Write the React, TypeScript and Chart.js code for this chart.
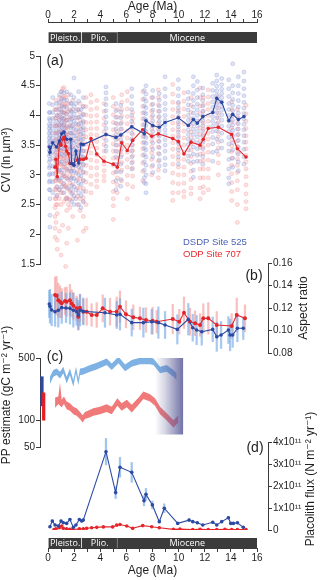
import React, { useEffect, useRef } from 'react';
import { Chart, registerables } from 'chart.js';

Chart.register(...registerables);

// ---------------- data ----------------
const AGE_LABEL_TICKS = [0, 2, 4, 6, 8, 10, 12, 14, 16];
const AGE_ALL_TICKS = [0, 1, 2, 3, 4, 5, 6, 7, 8, 9, 10, 11, 12, 13, 14, 15, 16];
const EPOCH_NAMES = ['Pleisto.', 'Plio.', 'Miocene'];
const EPOCH_START = [0, 2.58, 5.33];
const EPOCH_END = [2.58, 5.33, 16];

// (a) CVI
const SITE_525_AGES = [0.1, 0.15, 0.36, 0.66, 0.87, 1.05, 1.22, 1.43, 1.74, 1.81, 1.99, 2.14, 2.35, 2.53, 2.7, 4.44, 5.2, 5.57, 6.41, 7.37, 7.5, 8.02, 8.52, 8.96, 9.98, 10.74, 11.13, 11.43, 11.85, 12.61, 12.92, 13.3, 13.84, 14.14, 14.57, 15.0];
const SITE_525_CVI_MEAN = [3.47, 3.38, 3.54, 3.47, 3.57, 3.69, 3.72, 3.6, 3.6, 3.19, 3.16, 3.4, 3.2, 3.52, 3.51, 3.68, 3.63, 3.67, 3.81, 3.69, 3.91, 3.83, 3.8, 3.88, 3.96, 3.83, 3.93, 3.87, 3.98, 4.05, 4.29, 4.22, 3.91, 4.02, 3.93, 3.98];
const SITE_525_CVI_RAW = [
  [4.2, 4.05, 3.95, 3.85, 3.78, 3.7, 3.62, 3.55, 3.48, 3.4, 3.32, 3.22, 3.12, 3.0, 2.88, 2.75],
  [4.05, 3.92, 3.82, 3.74, 3.66, 3.58, 3.5, 3.42, 3.35, 3.26, 3.15, 3.02, 2.9, 2.75, 2.6, 2.32, 2.12],
  [4.3, 4.18, 4.05, 3.95, 3.86, 3.78, 3.7, 3.62, 3.55, 3.47, 3.38, 3.28, 3.15, 3.02, 2.88, 2.7],
  [4.2, 4.1, 4.0, 3.9, 3.82, 3.74, 3.66, 3.58, 3.5, 3.42, 3.33, 3.22, 3.1, 2.95, 2.8, 2.65],
  [4.35, 4.22, 4.1, 4.0, 3.92, 3.84, 3.76, 3.68, 3.6, 3.52, 3.44, 3.34, 3.22, 3.08, 2.92, 2.75],
  [4.4, 4.28, 4.16, 4.06, 3.96, 3.88, 3.8, 3.72, 3.64, 3.56, 3.46, 3.35, 3.22, 3.08, 2.95, 2.8],
  [4.38, 4.25, 4.14, 4.04, 3.95, 3.87, 3.79, 3.71, 3.63, 3.54, 3.44, 3.32, 3.18, 3.02, 2.86, 2.7],
  [4.4, 4.26, 4.13, 4.02, 3.92, 3.82, 3.73, 3.64, 3.55, 3.46, 3.36, 3.24, 3.1, 2.94, 2.78, 2.6],
  [4.35, 4.2, 4.08, 3.98, 3.88, 3.79, 3.7, 3.61, 3.52, 3.43, 3.32, 3.2, 3.06, 2.92, 2.75],
  [4.2, 4.06, 3.94, 3.82, 3.7, 3.58, 3.46, 3.36, 3.26, 3.16, 3.06, 2.95, 2.82, 2.68, 2.55],
  [4.63, 4.3, 4.15, 4.02, 3.9, 3.78, 3.66, 3.54, 3.42, 3.3, 3.18, 3.06, 2.94, 2.8, 2.65, 2.5],
  [4.2, 4.08, 3.96, 3.86, 3.76, 3.66, 3.56, 3.46, 3.36, 3.26, 3.15, 3.03, 2.9, 2.75, 2.6],
  [4.4, 4.24, 4.1, 3.97, 3.85, 3.73, 3.61, 3.49, 3.37, 3.25, 3.13, 3.0, 2.86, 2.7, 2.5],
  [4.1, 3.98, 3.87, 3.77, 3.68, 3.59, 3.5, 3.41, 3.32, 3.22, 3.11, 2.98, 2.84, 2.65, 2.45],
  [4.3, 4.15, 4.02, 3.9, 3.8, 3.7, 3.6, 3.5, 3.4, 3.3, 3.18, 3.05, 2.9, 2.72, 2.55],
  [4.48, 4.38, 4.28, 4.18, 4.08, 3.98, 3.88, 3.78, 3.68, 3.58, 3.48, 3.4],
  [4.2, 4.08, 3.97, 3.87, 3.77, 3.68, 3.59, 3.5, 3.4, 3.3, 3.18, 3.05, 2.9, 2.75],
  [4.17, 4.06, 3.96, 3.86, 3.77, 3.68, 3.59, 3.5, 3.4, 3.3, 3.18, 3.05, 2.92, 2.81],
  [4.45, 4.32, 4.2, 4.1, 4.0, 3.9, 3.8, 3.7, 3.6, 3.5, 3.4, 3.3, 3.2, 3.1],
  [4.42, 4.28, 4.16, 4.05, 3.95, 3.85, 3.75, 3.65, 3.55, 3.45, 3.34, 3.22, 3.08, 2.95, 2.87],
  [4.5, 4.36, 4.24, 4.13, 4.03, 3.93, 3.83, 3.73, 3.63, 3.53, 3.42, 3.3, 3.16, 3.0, 2.85, 2.7],
  [4.42, 4.3, 4.19, 4.09, 4.0, 3.91, 3.82, 3.73, 3.64, 3.54, 3.43, 3.3, 3.16, 3.04],
  [4.37, 4.26, 4.16, 4.07, 3.98, 3.9, 3.82, 3.74, 3.65, 3.56, 3.46, 3.35, 3.25, 3.15],
  [4.65, 4.45, 4.32, 4.2, 4.1, 4.0, 3.92, 3.84, 3.76, 3.68, 3.59, 3.5, 3.4, 3.28, 3.17, 3.07],
  [4.6, 4.45, 4.33, 4.22, 4.13, 4.05, 3.97, 3.89, 3.81, 3.72, 3.63, 3.53, 3.42, 3.3, 3.18],
  [4.39, 4.28, 4.18, 4.09, 4.0, 3.92, 3.84, 3.76, 3.68, 3.6, 3.51, 3.42, 3.32, 3.23],
  [4.65, 4.5, 4.37, 4.25, 4.14, 4.04, 3.95, 3.86, 3.77, 3.68, 3.58, 3.47, 3.35, 3.22, 3.08, 2.96],
  [4.57, 4.43, 4.3, 4.19, 4.09, 4.0, 3.91, 3.82, 3.73, 3.64, 3.54, 3.44, 3.33, 3.23],
  [4.46, 4.35, 4.25, 4.16, 4.07, 3.99, 3.91, 3.83, 3.74, 3.65, 3.55, 3.44, 3.31, 3.18],
  [4.54, 4.42, 4.32, 4.23, 4.14, 4.06, 3.98, 3.9, 3.82, 3.73, 3.63, 3.52, 3.38, 3.23],
  [4.68, 4.58, 4.49, 4.41, 4.34, 4.27, 4.2, 4.13, 4.05, 3.96, 3.86, 3.74, 3.6, 3.4],
  [4.62, 4.52, 4.44, 4.37, 4.3, 4.23, 4.16, 4.09, 4.01, 3.92, 3.82, 3.7, 3.57, 3.45],
  [4.6, 4.45, 4.32, 4.2, 4.1, 4.0, 3.91, 3.82, 3.73, 3.63, 3.52, 3.4, 3.26, 3.1, 2.95, 2.85],
  [4.87, 4.5, 4.38, 4.27, 4.17, 4.08, 4.0, 3.92, 3.84, 3.75, 3.65, 3.54, 3.42, 3.28, 3.13],
  [4.65, 4.5, 4.37, 4.25, 4.14, 4.04, 3.95, 3.86, 3.77, 3.68, 3.58, 3.47, 3.35, 3.22, 3.07],
  [4.73, 4.58, 4.45, 4.33, 4.22, 4.12, 4.03, 3.94, 3.85, 3.76, 3.66, 3.55, 3.43, 3.3, 3.18],
];

const SITE_707_AGES = [0.54, 0.61, 0.71, 0.87, 1.0, 1.12, 1.22, 1.35, 1.43, 1.56, 1.68, 1.89, 2.25, 2.45, 2.71, 2.91, 3.29, 3.73, 4.29, 5.0, 5.31, 5.64, 6.07, 6.48, 7.25, 7.94, 8.45, 9.55, 9.98, 10.41, 10.95, 11.64, 11.89, 12.27, 13.04, 14.06, 14.5, 15.16];
const SITE_707_CVI_MEAN = [3.13, 3.26, 2.97, 3.54, 3.5, 3.6, 3.63, 3.48, 3.4, 3.36, 3.19, 3.18, 3.25, 3.26, 3.26, 3.28, 3.61, 3.35, 3.23, 3.18, 3.13, 3.54, 3.41, 3.58, 3.76, 3.65, 3.69, 3.61, 3.56, 3.35, 3.55, 3.5, 3.6, 3.78, 3.8, 3.68, 3.44, 3.3];
const SITE_707_CVI_RAW = [
  [4.1, 3.95, 3.82, 3.7, 3.58, 3.46, 3.35, 3.24, 3.13, 3.02, 2.9, 2.76, 2.6, 2.45, 2.3, 2.1, 1.95],
  [4.25, 4.1, 3.96, 3.83, 3.71, 3.6, 3.49, 3.38, 3.27, 3.16, 3.04, 2.9, 2.75, 2.6, 2.5, 2.2],
  [4.0, 3.84, 3.7, 3.56, 3.43, 3.3, 3.17, 3.05, 2.93, 2.8, 2.66, 2.5, 2.35, 1.9, 1.75],
  [4.3, 4.16, 4.04, 3.93, 3.82, 3.72, 3.62, 3.52, 3.42, 3.31, 3.19, 3.05, 2.9, 2.75, 2.6, 2.05],
  [4.4, 4.24, 4.1, 3.97, 3.85, 3.74, 3.63, 3.52, 3.41, 3.3, 3.18, 3.04, 2.88, 2.7, 2.5, 1.65],
  [4.45, 4.3, 4.17, 4.05, 3.94, 3.83, 3.72, 3.61, 3.5, 3.39, 3.27, 3.14, 2.99, 2.85, 2.7, 2.15],
  [4.47, 4.32, 4.18, 4.06, 3.95, 3.84, 3.73, 3.62, 3.51, 3.4, 3.28, 3.14, 2.98, 2.8, 2.55],
  [4.3, 4.15, 4.02, 3.9, 3.79, 3.68, 3.57, 3.46, 3.35, 3.24, 3.12, 2.98, 2.82, 2.6, 1.46],
  [4.2, 4.05, 3.92, 3.8, 3.68, 3.56, 3.44, 3.32, 3.2, 3.08, 2.95, 2.8, 2.62, 2.4, 1.85],
  [4.35, 4.2, 4.06, 3.93, 3.8, 3.67, 3.55, 3.43, 3.31, 3.19, 3.06, 2.92, 2.76, 2.6, 2.5, 2.1],
  [4.1, 3.96, 3.83, 3.71, 3.59, 3.47, 3.35, 3.23, 3.11, 2.99, 2.86, 2.72, 2.58, 2.45],
  [4.25, 4.1, 3.96, 3.83, 3.71, 3.59, 3.47, 3.35, 3.23, 3.11, 2.98, 2.84, 2.7, 2.6, 2.3],
  [4.1, 3.96, 3.84, 3.72, 3.61, 3.5, 3.39, 3.28, 3.17, 3.05, 2.92, 2.78, 2.64, 2.5, 1.9],
  [4.2, 4.05, 3.92, 3.8, 3.68, 3.56, 3.44, 3.32, 3.2, 3.08, 2.94, 2.78, 2.6, 2.4],
  [4.15, 4.01, 3.88, 3.76, 3.64, 3.52, 3.4, 3.28, 3.16, 3.04, 2.91, 2.77, 2.62, 2.55, 2.3, 2.05],
  [4.3, 4.15, 4.01, 3.88, 3.76, 3.64, 3.52, 3.4, 3.28, 3.16, 3.03, 2.88, 2.72, 2.5, 2.1],
  [4.35, 4.22, 4.1, 3.99, 3.88, 3.78, 3.68, 3.58, 3.48, 3.37, 3.25, 3.12, 2.98, 2.84, 2.7],
  [4.25, 4.12, 4.0, 3.89, 3.78, 3.67, 3.56, 3.45, 3.34, 3.23, 3.12, 3.0, 2.9, 2.8],
  [4.2, 4.07, 3.95, 3.84, 3.73, 3.62, 3.51, 3.4, 3.29, 3.18, 3.07, 2.98, 2.9],
  [4.3, 4.15, 4.01, 3.88, 3.76, 3.64, 3.52, 3.4, 3.28, 3.16, 3.03, 2.88, 2.72, 2.6, 2.48, 2.25],
  [4.1, 3.97, 3.85, 3.73, 3.61, 3.5, 3.39, 3.28, 3.17, 3.06, 2.95, 2.83, 2.7],
  [4.35, 4.22, 4.1, 3.99, 3.88, 3.77, 3.66, 3.55, 3.44, 3.33, 3.21, 3.08, 2.9],
  [4.4, 4.25, 4.11, 3.98, 3.86, 3.74, 3.62, 3.5, 3.38, 3.26, 3.13, 2.99, 2.84, 2.6],
  [4.05, 3.95, 3.86, 3.77, 3.68, 3.59, 3.5, 3.41, 3.32, 3.22, 3.11, 2.98, 2.8],
  [4.4, 4.27, 4.15, 4.04, 3.94, 3.84, 3.74, 3.64, 3.54, 3.44, 3.33, 3.2, 3.06, 2.9],
  [4.3, 4.18, 4.07, 3.97, 3.87, 3.77, 3.67, 3.57, 3.47, 3.37, 3.26, 3.14, 3.0],
  [4.43, 4.3, 4.18, 4.07, 3.97, 3.87, 3.77, 3.67, 3.57, 3.47, 3.36, 3.23, 3.08, 2.95],
  [4.52, 4.36, 4.22, 4.1, 3.98, 3.87, 3.76, 3.65, 3.54, 3.43, 3.31, 3.18, 3.03, 2.87, 2.7, 2.57],
  [4.2, 4.08, 3.97, 3.86, 3.76, 3.66, 3.56, 3.46, 3.36, 3.25, 3.13, 3.0, 2.85, 2.7],
  [4.38, 4.24, 4.11, 3.98, 3.86, 3.74, 3.62, 3.5, 3.38, 3.26, 3.13, 3.0, 2.86, 2.72, 2.63],
  [4.3, 4.17, 4.05, 3.94, 3.83, 3.72, 3.62, 3.52, 3.42, 3.31, 3.19, 3.06, 2.92, 2.78, 2.68],
  [4.46, 4.3, 4.16, 4.03, 3.91, 3.79, 3.68, 3.57, 3.46, 3.35, 3.23, 3.1, 2.95, 2.78, 2.6],
  [4.3, 4.18, 4.07, 3.97, 3.87, 3.77, 3.67, 3.57, 3.47, 3.36, 3.24, 3.1, 2.95, 2.8, 2.7],
  [4.43, 4.31, 4.2, 4.1, 4.0, 3.9, 3.8, 3.7, 3.6, 3.5, 3.38, 3.25, 3.1, 2.95, 2.75],
  [4.32, 4.22, 4.13, 4.04, 3.96, 3.88, 3.8, 3.72, 3.64, 3.55, 3.45, 3.34, 3.2, 3.0],
  [4.23, 4.1, 3.99, 3.89, 3.79, 3.69, 3.59, 3.49, 3.39, 3.28, 3.16, 3.02, 2.87, 2.72, 2.57],
  [4.1, 3.98, 3.87, 3.77, 3.67, 3.57, 3.47, 3.37, 3.27, 3.16, 3.04, 2.9, 2.75, 2.5, 2.2],
  [4.17, 4.03, 3.9, 3.78, 3.66, 3.55, 3.44, 3.33, 3.22, 3.1, 2.97, 2.83, 2.68, 2.55, 2.43],
];

// (b) aspect ratio
const AR_525_AGES = [0.1, 0.15, 0.28, 0.54, 0.79, 1.05, 1.38, 1.68, 1.94, 2.19, 2.32, 2.45, 2.7, 4.36, 5.26, 5.51, 6.41, 7.3, 7.94, 8.45, 8.96, 9.9, 10.74, 11.08, 11.38, 11.77, 12.61, 12.92, 13.25, 13.81, 13.94, 14.14, 14.5, 14.95];
const AR_525 = [0.1236, 0.1215, 0.1182, 0.1167, 0.118, 0.1203, 0.12, 0.1197, 0.118, 0.1167, 0.1138, 0.118, 0.117, 0.1158, 0.1138, 0.1144, 0.107, 0.107, 0.1078, 0.107, 0.1049, 0.101, 0.11, 0.1025, 0.1004, 0.0989, 0.101, 0.0945, 0.096, 0.1004, 0.096, 0.096, 0.102, 0.102];
const AR_525_ERR = [0.012, 0.015, 0.014, 0.013, 0.015, 0.014, 0.013, 0.014, 0.015, 0.012, 0.013, 0.014, 0.012, 0.013, 0.012, 0.014, 0.012, 0.013, 0.011, 0.014, 0.012, 0.013, 0.014, 0.012, 0.013, 0.012, 0.011, 0.013, 0.012, 0.012, 0.014, 0.011, 0.012, 0.01];
const AR_707_AGES = [0.54, 0.66, 0.79, 0.92, 1.05, 1.3, 1.43, 1.68, 1.81, 1.94, 2.19, 2.32, 2.45, 2.7, 2.96, 3.34, 3.73, 4.19, 4.75, 5.26, 5.51, 5.97, 6.53, 7.04, 7.5, 8.01, 8.32, 9.55, 10.05, 10.41, 10.87, 11.26, 11.64, 11.89, 12.27, 12.92, 14.06, 14.45, 15.08];
const AR_707 = [0.1316, 0.131, 0.127, 0.1256, 0.1242, 0.1262, 0.1256, 0.127, 0.124, 0.122, 0.1197, 0.1123, 0.1203, 0.1167, 0.1167, 0.1138, 0.1138, 0.1197, 0.1167, 0.1167, 0.1212, 0.1144, 0.1117, 0.1108, 0.1093, 0.1087, 0.1078, 0.1102, 0.1078, 0.1158, 0.1078, 0.1064, 0.1049, 0.1108, 0.1108, 0.1049, 0.104, 0.1138, 0.1108];
const AR_707_ERR = [0.016, 0.017, 0.015, 0.014, 0.013, 0.012, 0.013, 0.014, 0.012, 0.012, 0.011, 0.012, 0.012, 0.011, 0.012, 0.01, 0.011, 0.012, 0.012, 0.013, 0.014, 0.012, 0.011, 0.01, 0.011, 0.012, 0.01, 0.013, 0.011, 0.014, 0.012, 0.011, 0.01, 0.013, 0.014, 0.012, 0.011, 0.015, 0.012];
const AR_TICK_STEP = 0.02;

// (c) primary productivity (gC m-2 yr-1)
const PP_525_AGES = [0.15, 0.41, 0.66, 0.92, 1.17, 1.43, 1.68, 1.94, 2.14, 2.32, 2.45, 2.7, 3.22, 3.73, 4.49, 4.88, 5.39, 5.9, 6.41, 7.04, 7.81, 8.07, 8.58, 9.09, 9.6, 9.85];
const PP_525_LOW = [255, 308, 322, 295, 336, 259, 321, 238, 336, 248, 321, 326, 350, 372, 416, 366, 436, 356, 399, 424, 424, 416, 336, 350, 308, 283];
const PP_525_HIGH = [310, 366, 382, 350, 399, 308, 382, 282, 399, 294, 382, 387, 416, 443, 495, 435, 518, 423, 474, 504, 504, 495, 399, 416, 366, 336];
const PP_707_AGES = [0.54, 0.79, 0.92, 1.05, 1.22, 1.43, 1.68, 1.94, 2.19, 2.45, 2.65, 2.83, 3.22, 3.47, 3.98, 4.49, 4.88, 5.31, 5.64, 6.03, 6.41, 6.92, 7.3, 7.81, 8.19, 8.58, 9.09, 9.6, 9.98];
const PP_707_LOW = [138, 152, 145, 140, 152, 133, 128, 117, 112, 103, 94, 103, 108, 112, 117, 124, 117, 145, 128, 140, 122, 148, 173, 162, 145, 117, 99, 83, 94];
const PP_707_HIGH = [180, 185, 262, 170, 185, 162, 155, 142, 136, 124, 114, 124, 131, 136, 142, 151, 142, 176, 155, 170, 149, 179, 210, 196, 176, 142, 120, 100, 114];
const PP_MODERN_525 = [145, 308];
const PP_MODERN_707 = [100, 203];
const PP_OVERLAY_AGES = [8.19, 10.36];
const PP_OVERLAY_RANGE = [69, 500];
const PP_TICKS = [50, 100, 500];

// (d) placolith flux (units of 10^11 N m-2 yr-1)
const FLUX_525_AGES = [0.15, 0.33, 0.54, 0.79, 1.0, 1.17, 1.43, 1.68, 1.94, 2.14, 2.4, 2.58, 2.7, 4.44, 5.18, 5.51, 6.41, 7.35, 7.5, 7.99, 8.52, 8.9, 9.93, 10.8, 11.08, 11.43, 11.85, 12.61, 12.92, 13.3, 13.81, 13.99, 14.19, 14.5, 14.95];
const FLUX_525 = [0.15, 0.41, 0.23, 0.18, 0.41, 0.33, 0.3, 0.48, 0.12, 0.23, 0.48, 0.41, 0.45, 3.56, 1.7, 2.85, 2.62, 1.33, 1.62, 1.14, 0.38, 0.99, 0.3, 0.45, 0.38, 0.33, 0.23, 0.35, 0.23, 0.38, 0.56, 0.3, 0.3, 0.33, 0.12];
const FLUX_525_ERR = [0.04, 0.05, 0.04, 0.04, 0.05, 0.04, 0.04, 0.05, 0.03, 0.04, 0.05, 0.05, 0.05, 0.6, 0.27, 0.45, 0.45, 0.23, 0.27, 0.18, 0.06, 0.2, 0.05, 0.06, 0.05, 0.05, 0.04, 0.05, 0.04, 0.05, 0.06, 0.04, 0.04, 0.05, 0.03];
const FLUX_707_AGES = [0.46, 0.61, 0.87, 1.05, 1.17, 1.43, 1.68, 1.89, 2.4, 2.7, 2.96, 3.34, 3.73, 4.24, 4.95, 5.26, 5.51, 6.03, 6.48, 7.25, 7.94, 8.52, 9.6, 10.1, 11.08, 11.64, 12.27, 12.92, 13.55, 14.06, 14.5, 15.16];
const FLUX_707 = [0.02, 0.05, 0.1, 0.18, 0.08, 0.05, 0.03, 0.02, 0.05, 0.06, 0.08, 0.1, 0.12, 0.14, 0.14, 0.22, 0.25, 0.18, 0.08, 0.2, 0.15, 0.1, 0.03, 0.04, 0.02, 0.03, 0.02, 0.02, 0.03, 0.02, 0.02, 0.02];

// ---------------- layout & style ----------------
const W = 320;
const H = 580;
const AREA_L = 40;
const AREA_R = 268;
const AGE0_PX = 48;
const AGE16_PX = 257;
const PX_PER_MA = (AGE16_PX - AGE0_PX) / 16;
const X_MIN = -(AGE0_PX - AREA_L) / PX_PER_MA;
const X_MAX = 16 + (AREA_R - AGE16_PX) / PX_PER_MA;
const MODERN_BAR_X = [-0.46, -0.33];

const FONT = "'Liberation Sans', Arial, 'DejaVu Sans', sans-serif";
const AXIS_COLOR = '#3a3a3a';
const TEXT_COLOR = '#1e1e1e';
const BLUE = '#2c4aa3';
const RED = '#e4262c';
const EPOCH_FILL = '#3b3b3b';

Chart.defaults.font.family = FONT;

type TextItem = { text: string; x: number; y: number; size: number; color?: string; rotate?: boolean; align?: CanvasTextAlign };

function textPlugin(id: string, items: TextItem[]) {
  return {
    id,
    afterDraw(chart: any) {
      const c = chart.ctx as CanvasRenderingContext2D;
      for (const it of items) {
        c.save();
        c.font = `${it.size}px ${FONT}`;
        c.fillStyle = it.color ?? TEXT_COLOR;
        c.textAlign = it.align ?? 'center';
        c.textBaseline = 'middle';
        c.translate(it.x, it.y);
        if (it.rotate) c.rotate(-Math.PI / 2);
        c.fillText(it.text, 0, 0);
        c.restore();
      }
    },
  };
}

const epochLabelPlugin = {
  id: 'epochLabels',
  afterDatasetsDraw(chart: any) {
    const meta = chart.getDatasetMeta(0);
    const c = chart.ctx as CanvasRenderingContext2D;
    c.save();
    c.font = `9px 'Open Sans', ${FONT}`;
    c.fillStyle = '#ffffff';
    c.textAlign = 'center';
    c.textBaseline = 'middle';
    meta.data.forEach((el: any, i: number) => {
      const p = el.getProps(['x', 'base', 'y'], true);
      c.fillText(EPOCH_NAMES[i], (p.x + p.base) / 2, p.y + 0.5);
    });
    c.restore();
  },
};

function baseOptions(padding: any) {
  return {
    responsive: false,
    animation: false,
    events: [],
    layout: { padding },
    plugins: { legend: { display: false }, tooltip: { enabled: false } },
  };
}

function panelPadding(top: number, bottom: number, left: boolean, right: boolean) {
  return { left: left ? 0 : AREA_L, right: right ? 0 : W - AREA_R, top, bottom: H - bottom };
}

function hiddenX() {
  return { type: 'linear', min: X_MIN, max: X_MAX, display: false, offset: false, grid: { offset: false } };
}

function yAxis(side: 'left' | 'right', opts: any, ticks: any) {
  return {
    position: side,
    border: { display: true, color: AXIS_COLOR, width: 1 },
    grid: { display: true, drawOnChartArea: false, drawTicks: true, tickLength: 4, color: AXIS_COLOR },
    afterFit: (s: any) => {
      s.width = side === 'left' ? AREA_L : W - AREA_R;
    },
    ...opts,
    ticks: { font: { family: FONT, size: 10 }, color: TEXT_COLOR, padding: 1, ...ticks },
  };
}

function pts(ages: number[], vals: number[]) {
  return ages.map((a, i) => ({ x: a, y: vals[i] }));
}

function meanLine(label: string, ages: number[], vals: number[], color: string, r = 1.8) {
  return {
    type: 'line',
    label,
    data: pts(ages, vals),
    borderColor: color,
    backgroundColor: color,
    borderWidth: 1.1,
    pointRadius: r,
    pointBorderWidth: 0,
    pointBackgroundColor: color,
    tension: 0,
    fill: false,
  };
}

function errBars(label: string, ages: number[], vals: number[], err: number[], color: string, clip: any = undefined) {
  return {
    type: 'bar',
    label,
    data: ages.map((a, i) => ({ x: a, y: [vals[i] - err[i], vals[i] + err[i]] })),
    backgroundColor: color,
    borderWidth: 0,
    barThickness: 1.6,
    grouped: false,
    ...(clip === undefined ? {} : { clip }),
  };
}

function bandPair(label: string, ages: number[], low: number[], high: number[], color: string) {
  return [
    { type: 'line', label: label + ' high', data: pts(ages, high), borderColor: 'rgba(0,0,0,0)', borderWidth: 0, pointRadius: 0, fill: '+1', backgroundColor: color, tension: 0 },
    { type: 'line', label: label + ' low', data: pts(ages, low), borderColor: 'rgba(0,0,0,0)', borderWidth: 0, pointRadius: 0, fill: false, tension: 0 },
  ];
}

// ---------------- chart configs ----------------
function epochAxisConfig(position: 'top' | 'bottom') {
  const isTop = position === 'top';
  return {
    type: 'bar',
    data: {
      labels: isTop ? ['', 'epoch'] : ['epoch'],
      datasets: [
        {
          label: 'Epochs',
          data: EPOCH_NAMES.map((_, i) => ({ x: [EPOCH_START[i], EPOCH_END[i]], y: 'epoch' })),
          backgroundColor: EPOCH_FILL,
          borderColor: '#ffffff',
          borderWidth: (ctx: any) => (ctx.dataIndex < EPOCH_NAMES.length - 1 ? { top: 0, bottom: 0, left: 0, right: 1 } : 0),
          borderSkipped: false,
          barThickness: isTop ? 11 : 10,
        },
      ],
    },
    options: {
      ...baseOptions({ left: AGE0_PX, right: W - AGE16_PX, top: isTop ? 0 : 538, bottom: isTop ? H - 43 : 0 }),
      indexAxis: 'y',
      scales: {
        x: {
          type: 'linear',
          position,
          min: 0,
          max: 16,
          offset: false,
          afterBuildTicks: (s: any) => {
            s.ticks = AGE_ALL_TICKS.map((v) => ({ value: v }));
          },
          afterFit: (s: any) => {
            s.height = isTop ? 22 : 32;
          },
          ticks: {
            autoSkip: false,
            maxRotation: 0,
            padding: isTop ? -1 : 0,
            color: TEXT_COLOR,
            font: { family: FONT, size: 10, lineHeight: isTop ? 1 : 1.2 },
            callback: (v: number) => (AGE_LABEL_TICKS.includes(v) ? String(v) : ''),
          },
          grid: { drawOnChartArea: false, drawTicks: true, tickLength: isTop ? 3 : 4, color: AXIS_COLOR },
          border: { display: true, color: AXIS_COLOR, width: 1 },
          title: {
            display: true,
            text: 'Age (Ma)',
            color: TEXT_COLOR,
            font: { family: FONT, size: 12, lineHeight: isTop ? 1.1 : 1.2 },
            padding: isTop ? { top: 0, bottom: 0 } : { top: 0, bottom: 2 },
          },
        },
        y: { type: 'category', display: false, offset: true },
      },
    },
    plugins: [epochLabelPlugin],
  };
}

function panelAConfig() {
  const raw525 = SITE_525_AGES.flatMap((a, i) => SITE_525_CVI_RAW[i].map((v) => ({ x: a, y: v })));
  const raw707 = SITE_707_AGES.flatMap((a, i) => SITE_707_CVI_RAW[i].map((v) => ({ x: a, y: v })));
  return {
    type: 'line',
    data: {
      datasets: [
        meanLine('DSDP Site 525 mean', SITE_525_AGES, SITE_525_CVI_MEAN, BLUE),
        meanLine('ODP Site 707 mean', SITE_707_AGES, SITE_707_CVI_MEAN, RED),
        {
          type: 'line',
          label: 'DSDP Site 525',
          data: raw525,
          showLine: false,
          pointRadius: 2,
          pointBackgroundColor: 'rgba(150,163,218,0.3)',
          pointBorderColor: 'rgba(120,136,208,0.45)',
          pointBorderWidth: 0.6,
          clip: false,
        },
        {
          type: 'line',
          label: 'ODP Site 707',
          data: raw707,
          showLine: false,
          pointRadius: 2,
          pointBackgroundColor: 'rgba(246,160,160,0.3)',
          pointBorderColor: 'rgba(240,130,130,0.45)',
          pointBorderWidth: 0.6,
          clip: false,
        },
      ],
    },
    options: {
      ...baseOptions(panelPadding(56, 264, true, false)),
      scales: {
        x: hiddenX(),
        y: yAxis('left', { type: 'linear', min: 1.5, max: 5 }, { stepSize: 0.5, callback: (v: number) => String(v) }),
      },
    },
    plugins: [
      textPlugin('textA', [
        { text: 'CVI (ln µm³)', x: 7, y: 160, size: 12, rotate: true },
        { text: '(a)', x: 55, y: 61, size: 14 },
        { text: 'DSDP Site 525', x: 183, y: 242, size: 9.5, color: '#4b62b8', align: 'left' },
        { text: 'ODP Site 707', x: 183, y: 254, size: 9.5, color: '#e8282c', align: 'left' },
      ]),
    ],
  };
}

function panelBConfig() {
  return {
    type: 'line',
    data: {
      datasets: [
        meanLine('DSDP Site 525', AR_525_AGES, AR_525, BLUE),
        meanLine('ODP Site 707', AR_707_AGES, AR_707, RED, 2),
        errBars('525 error', AR_525_AGES, AR_525, AR_525_ERR, 'rgba(110,165,228,0.6)'),
        errBars('707 error', AR_707_AGES, AR_707, AR_707_ERR, 'rgba(245,150,150,0.6)'),
      ],
    },
    options: {
      ...baseOptions(panelPadding(263, 353, false, true)),
      scales: {
        x: hiddenX(),
        y: yAxis('right', { type: 'linear', min: 0.08, max: 0.16 }, { stepSize: AR_TICK_STEP, callback: (v: number) => v.toFixed(2) }),
      },
    },
    plugins: [
      textPlugin('textB', [
        { text: '(b)', x: 254, y: 276, size: 14 },
        { text: 'Aspect ratio', x: 304, y: 308, size: 12, rotate: true },
      ]),
    ],
  };
}

function panelCConfig() {
  const overlayGradient = (ctx: any) => {
    const chart = ctx.chart;
    if (!chart.chartArea) return 'rgba(0,0,0,0)';
    const xs = chart.scales.x;
    const x0 = xs.getPixelForValue(PP_OVERLAY_AGES[0]);
    const x1 = xs.getPixelForValue(PP_OVERLAY_AGES[1]);
    const g = chart.ctx.createLinearGradient(x0, 0, x1, 0);
    g.addColorStop(0, 'rgba(88,88,150,0)');
    g.addColorStop(0.35, 'rgba(88,88,150,0.25)');
    g.addColorStop(1, 'rgba(88,88,150,0.85)');
    return g;
  };
  return {
    type: 'line',
    data: {
      datasets: [
        {
          type: 'line',
          label: 'overlay top',
          data: PP_OVERLAY_AGES.map((a) => ({ x: a, y: PP_OVERLAY_RANGE[1] })),
          borderColor: 'rgba(0,0,0,0)',
          borderWidth: 0,
          pointRadius: 0,
          fill: '+1',
          backgroundColor: overlayGradient,
        },
        {
          type: 'line',
          label: 'overlay bottom',
          data: PP_OVERLAY_AGES.map((a) => ({ x: a, y: PP_OVERLAY_RANGE[0] })),
          borderColor: 'rgba(0,0,0,0)',
          borderWidth: 0,
          pointRadius: 0,
          fill: false,
        },
        ...bandPair('DSDP Site 525', PP_525_AGES, PP_525_LOW, PP_525_HIGH, '#7fb2e4'),
        ...bandPair('ODP Site 707', PP_707_AGES, PP_707_LOW, PP_707_HIGH, '#f07a7a'),
        {
          type: 'bar',
          label: 'modern',
          data: [
            { x: MODERN_BAR_X[0], y: PP_MODERN_525 },
            { x: MODERN_BAR_X[1], y: PP_MODERN_707 },
          ],
          backgroundColor: [BLUE, '#e81c24'],
          borderWidth: 0,
          barThickness: 2.6,
          grouped: false,
          clip: false,
        },
      ],
    },
    options: {
      ...baseOptions(panelPadding(358, 447, true, false)),
      scales: {
        x: hiddenX(),
        y: yAxis(
          'left',
          {
            type: 'logarithmic',
            min: PP_TICKS[0],
            max: PP_TICKS[PP_TICKS.length - 1],
            afterBuildTicks: (s: any) => {
              s.ticks = PP_TICKS.map((v) => ({ value: v }));
            },
          },
          { autoSkip: false, callback: (v: number) => String(v) }
        ),
      },
    },
    plugins: [
      textPlugin('textC', [
        { text: '(c)', x: 55, y: 357, size: 14 },
        { text: 'PP estimate (gC m⁻² yr⁻¹)', x: 7, y: 395, size: 12, rotate: true },
      ]),
    ],
  };
}

function panelDConfig() {
  return {
    type: 'line',
    data: {
      datasets: [
        meanLine('DSDP Site 525', FLUX_525_AGES, FLUX_525, BLUE),
        meanLine('ODP Site 707', FLUX_707_AGES, FLUX_707, RED),
        errBars('525 error', FLUX_525_AGES, FLUX_525, FLUX_525_ERR, 'rgba(110,165,228,0.65)', false),
      ],
    },
    options: {
      ...baseOptions(panelPadding(442, 530, false, true)),
      scales: {
        x: hiddenX(),
        y: yAxis('right', { type: 'linear', min: 0, max: 4 }, { stepSize: 1, callback: (v: number) => (v === 0 ? '0' : `${v}x10¹¹`) }),
      },
    },
    plugins: [
      textPlugin('textD', [
        { text: '(d)', x: 255, y: 448, size: 14 },
        { text: 'Placolith flux (N m⁻² yr⁻¹)', x: 311, y: 479, size: 12, rotate: true },
      ]),
    ],
  };
}

function ChartLayer({ build }: { build: () => any }) {
  const ref = useRef<HTMLCanvasElement | null>(null);
  useEffect(() => {
    if (!ref.current) return;
    const chart = new Chart(ref.current, build());
    return () => chart.destroy();
  }, [build]);
  return <canvas ref={ref} width={W} height={H} style={{ position: 'absolute', left: 0, top: 0, width: W, height: H }} />;
}

const topAxis = () => epochAxisConfig('top');
const bottomAxis = () => epochAxisConfig('bottom');

export default function App() {
  return (
    <div style={{ position: 'fixed', left: 0, top: 0, width: W, height: H, background: '#ffffff', overflow: 'hidden' }}>
      <ChartLayer build={topAxis} />
      <ChartLayer build={panelAConfig} />
      <ChartLayer build={panelBConfig} />
      <ChartLayer build={panelCConfig} />
      <ChartLayer build={panelDConfig} />
      <ChartLayer build={bottomAxis} />
    </div>
  );
}
